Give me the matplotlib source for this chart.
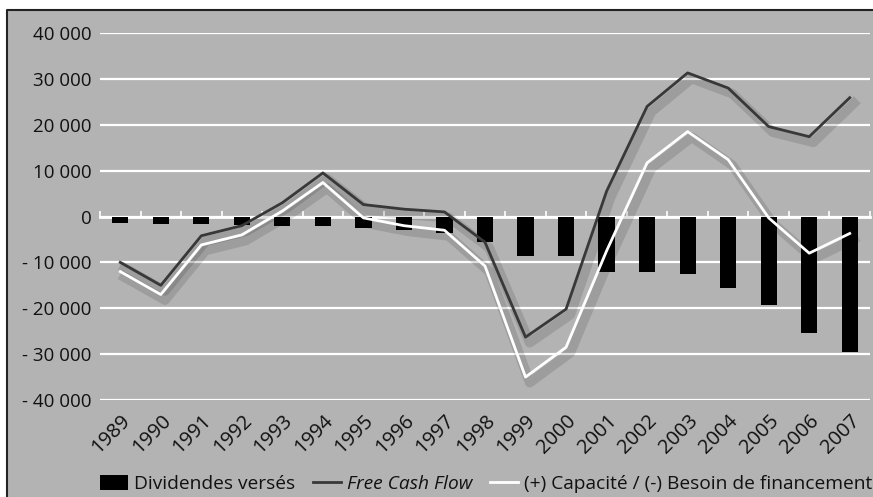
import matplotlib
matplotlib.use("Agg")
import matplotlib.pyplot as plt
import matplotlib.patheffects as pe
from matplotlib.patches import Rectangle
from matplotlib.lines import Line2D
import numpy as np

plt.rcParams['font.family'] = ['Open Sans', 'DejaVu Sans']

years = [str(y) for y in range(1989, 2008)]
dividendes = [-1500, -1600, -1700, -1800, -2000, -2000, -2500, -3000, -3500, -5500,
              -8700, -8700, -12200, -12200, -12600, -15500, -19200, -25500, -29600]
free_cash_flow = [-10000, -15000, -4200, -2000, 3000, 9500, 2600, 1600, 1000, -5600,
                  -26300, -20200, 5500, 24000, 31300, 28000, 19600, 17400, 25900]
capacite = [-12000, -17000, -6200, -4000, 1200, 7400, -300, -2000, -3000, -10800,
            -35000, -28500, -7500, 11700, 18500, 12400, -300, -8000, -3700]
yticks = [40000, 30000, 20000, 10000, 0, -10000, -20000, -30000, -40000]
ytick_labels = ['40 000', '30 000', '20 000', '10 000', '0', '- 10 000', '- 20 000', '- 30 000', '- 40 000']

bg = '#b3b3b3'
W, H = 873, 497
fig = plt.figure(figsize=(W / 100, H / 100), dpi=100, facecolor='white')

# grey panel with black left/top border
fig.patches.append(Rectangle((7 / W, 0), 1 - 7 / W, (H - 10) / H, transform=fig.transFigure,
                             facecolor=bg, edgecolor='none', zorder=-10))
fig.lines.append(Line2D([7 / W, 7 / W, 1], [0, (H - 10) / H, (H - 10) / H], transform=fig.transFigure,
                        color='#222222', lw=1.5, zorder=-9))

ax = fig.add_axes([100 / W, (H - 400) / H, 770 / W, 367 / H])
ax.set_facecolor(bg)
x = np.arange(len(years))

ax.set_ylim(-40000, 40000)
ax.set_xlim(-0.5, len(years) - 0.5)
ax.set_yticks(yticks)
ax.set_yticklabels(ytick_labels)
ax.grid(axis='y', color='white', lw=1.6, zorder=1)
ax.grid(axis='x', visible=False)
ax.set_axisbelow(True)
for s in ['top', 'right', 'left']:
    ax.spines[s].set_visible(False)

# zero line with minor ticks at category boundaries
ax.spines['bottom'].set_position(('data', 0))
ax.spines['bottom'].set_color('white')
ax.spines['bottom'].set_linewidth(2)
ax.spines['bottom'].set_zorder(2)
ax.set_xticks(x)
ax.tick_params(axis='x', which='major', length=0, labelbottom=False)
ax.set_xticks(np.arange(-0.5, len(years), 1), minor=True)
ax.tick_params(axis='x', which='minor', direction='in', length=4, width=1.2, color='white')
ax.tick_params(axis='y', length=0, labelsize=13.5, pad=6, labelcolor='#111111')

sec = ax.secondary_xaxis('bottom')
sec.spines['bottom'].set_visible(False)
sec.set_xticks(x)
sec.set_xticklabels(years, rotation=45, ha='right', va='top', rotation_mode='anchor')
sec.tick_params(length=0, labelsize=14.5, pad=8, labelcolor='#111111')

b = ax.bar(x, dividendes, width=0.4, color='black', zorder=3)
shadow = [pe.SimpleLineShadow(offset=(3, -4), shadow_color='black', alpha=0.12, linewidth=7), pe.Normal()]
l1, = ax.plot(x, free_cash_flow, color='#383838', lw=2, zorder=4, path_effects=shadow)
l2, = ax.plot(x, capacite, color='white', lw=2, zorder=5, path_effects=shadow)

h1 = Line2D([], [], color='#383838', lw=2)
h2 = Line2D([], [], color='white', lw=2)
leg = fig.legend([b, h1, h2], ['Dividendes versés', 'Free Cash Flow', '(+) Capacité / (-) Besoin de financement'],
                 loc='center', bbox_to_anchor=(486 / W, (H - 484) / H), ncol=3,
                 frameon=False, fontsize=13.8, handlelength=1.5, handleheight=0.8, handletextpad=0.3,
                 columnspacing=0.9, borderaxespad=0)
for t in leg.get_texts():
    t.set_color('#111111')
leg.get_texts()[1].set_style('italic')

fig.savefig('out.png', dpi=100, facecolor='white')
